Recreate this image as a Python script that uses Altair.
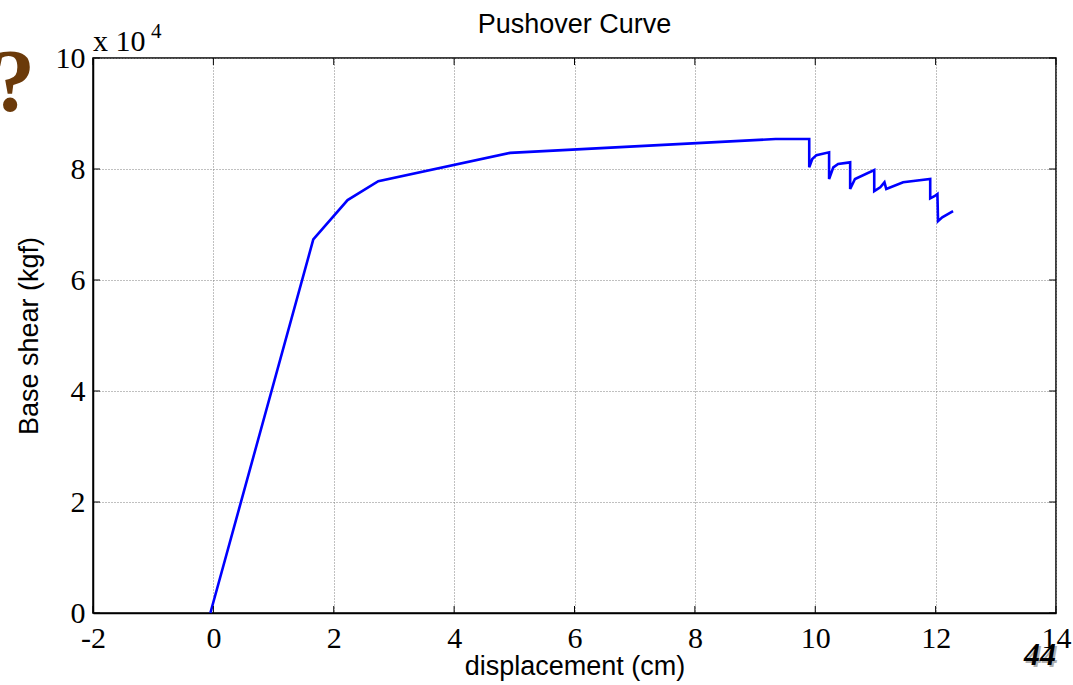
import altair as alt
import pandas as pd

# Pushover curve points (displacement cm, base shear kgf)
disp = [-0.05, 1.66, 2.23, 2.74, 4.93, 9.34, 9.90, 9.90, 9.95, 10.02, 10.23, 10.23,
        10.30, 10.38, 10.58, 10.58, 10.66, 10.98, 10.98, 11.08, 11.15, 11.18, 11.46,
        11.91, 11.91, 11.98, 12.03, 12.04, 12.11, 12.29]
shear = [0, 67300, 74400, 77800, 82900, 85400, 85400, 80300, 81800, 82500, 83000, 78200,
         80300, 80900, 81200, 76400, 78200, 79800, 76000, 76700, 77600, 76400, 77600,
         78200, 74700, 75100, 75500, 70600, 71300, 72400]

x_ticks = [-2, 0, 2, 4, 6, 8, 10, 12, 14]
y_ticks = [0, 20000, 40000, 60000, 80000, 100000]

W, H = 963, 555

df = pd.DataFrame({"disp": disp, "shear": shear, "order": list(range(len(disp)))})
xt = pd.DataFrame({"v": x_ticks})
yt = pd.DataFrame({"v": y_ticks})

xscale = alt.Scale(domain=[-2, 14], nice=False, zero=False)
yscale = alt.Scale(domain=[0, 100000], nice=False, zero=False)

line = alt.Chart(df).mark_line(color="#0000ff", strokeWidth=2.6).encode(
    x=alt.X("disp:Q", scale=xscale,
            axis=alt.Axis(values=x_ticks, title="displacement (cm)", grid=True,
                          labelExpr="'' + datum.value",
                          gridColor="#808080", gridDash=[1, 2], gridWidth=1, gridOpacity=1,
                          ticks=False, labelFont="Liberation Serif", labelFontSize=30,
                          labelColor="black", labelPadding=10, labelFlush=False,
                          labelOverlap=False, titleFont="Liberation Sans",
                          titleFontSize=27, titleFontWeight="normal", titleColor="black",
                          titlePadding=0, domainColor="black", domainWidth=1.5)),
    y=alt.Y("shear:Q", scale=yscale,
            axis=alt.Axis(values=y_ticks, title="Base shear (kgf)", grid=True,
                          labelExpr="'' + round(datum.value / 10000)",
                          gridColor="#808080", gridDash=[1, 2], gridWidth=1, gridOpacity=1,
                          ticks=False, labelFont="Liberation Serif", labelFontSize=30,
                          labelColor="black", labelPadding=8, labelFlush=False,
                          labelOverlap=False, titleFont="Liberation Sans",
                          titleFontSize=27, titleFontWeight="normal", titleColor="black",
                          titlePadding=12, domainColor="black", domainWidth=1.5)),
    order="order:Q",
)

tick_len = 7
bx = alt.Chart(xt).mark_rule(color="black", strokeWidth=1).encode(
    x=alt.X("v:Q", scale=xscale), y=alt.value(H), y2=alt.value(H - tick_len))
tx = alt.Chart(xt).mark_rule(color="black", strokeWidth=1).encode(
    x=alt.X("v:Q", scale=xscale), y=alt.value(0), y2=alt.value(tick_len))
ly = alt.Chart(yt).mark_rule(color="black", strokeWidth=1).encode(
    y=alt.Y("v:Q", scale=yscale), x=alt.value(0), x2=alt.value(tick_len))
ry = alt.Chart(yt).mark_rule(color="black", strokeWidth=1).encode(
    y=alt.Y("v:Q", scale=yscale), x=alt.value(W), x2=alt.value(W - tick_len))

title = alt.Chart(pd.DataFrame({"t": ["Pushover Curve"]})).mark_text(
    font="Liberation Sans", fontSize=27, align="center", baseline="alphabetic",
    color="black").encode(text="t:N", x=alt.value(W / 2), y=alt.value(-25))
mult = alt.Chart(pd.DataFrame({"t": ["x 10"]})).mark_text(
    font="Liberation Serif", fontSize=30, align="left",
    baseline="alphabetic", color="black").encode(
    text="t:N", x=alt.value(0), y=alt.value(-7))
sup = alt.Chart(pd.DataFrame({"t": ["4"]})).mark_text(
    font="Liberation Serif", fontSize=21, align="left", baseline="alphabetic",
    color="black").encode(text="t:N", x=alt.value(58), y=alt.value(-20))
qm = alt.Chart(pd.DataFrame({"t": ["?"]})).mark_text(
    font="Liberation Serif", fontSize=88, fontWeight="bold", align="center",
    baseline="alphabetic", color="#6b3a0a").encode(
    text="t:N", x=alt.value(-80), y=alt.value(52))
pg_shadow = alt.Chart(pd.DataFrame({"t": ["44"]})).mark_text(
    font="Liberation Serif", fontSize=32, fontWeight="bold", fontStyle="italic",
    align="center", baseline="alphabetic", color="#b0b0b0").encode(
    text="t:N", x=alt.value(949), y=alt.value(609))
pg = alt.Chart(pd.DataFrame({"t": ["44"]})).mark_text(
    font="Liberation Serif", fontSize=32, fontWeight="bold", fontStyle="italic",
    align="center", baseline="alphabetic", color="black").encode(
    text="t:N", x=alt.value(947), y=alt.value(607))

chart = alt.layer(line, bx, tx, ly, ry, title, mult, sup, qm, pg_shadow, pg).properties(
    width=W, height=H,
    autosize=alt.AutoSizeParams(type="none"),
    padding={"left": 93, "top": 58, "right": 17, "bottom": 72},
    background="white",
).configure_view(stroke="black", strokeWidth=1.5)

chart.save("out.html", embed_options={"renderer": "svg", "actions": False})
